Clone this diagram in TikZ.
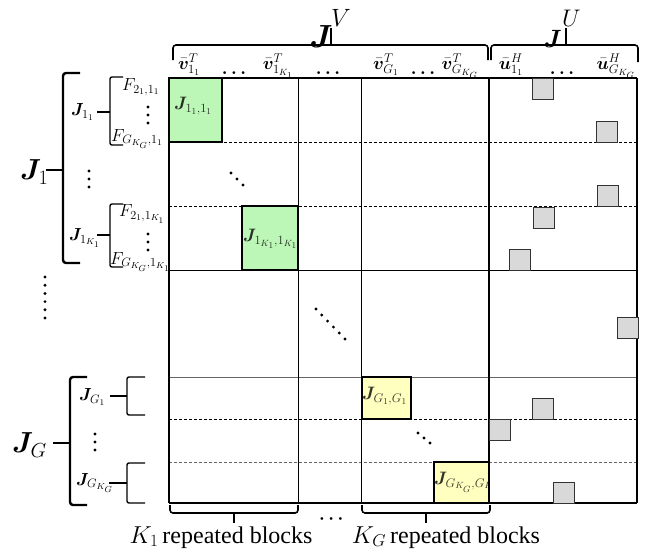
\RequirePackage{fix-cm}
\documentclass[tikz,border=0pt]{standalone}
\usepackage{amsmath}
\usepackage{bm}
\usepackage{fontspec}
\newfontfamily\timesfont{Liberation Serif}
\definecolor{blkgreen}{RGB}{189,247,183}
\definecolor{blkyellow}{RGB}{255,255,191}
\definecolor{sqgray}{RGB}{217,217,217}
\newcommand{\fs}[1]{\fontsize{#1}{#1}\selectfont}
\begin{document}
\begin{tikzpicture}[x=1pt,y=-1pt,
  thickln/.style={line width=1.8pt},
  thinln/.style={line width=0.9pt},
  dashln/.style={line width=0.8pt, dash pattern=on 3pt off 2pt},
  greydash/.style={line width=0.8pt, dash pattern=on 3pt off 2pt, draw=black!60},
  greyln/.style={line width=0.9pt, draw=black!60},
  greenblock/.style={fill=blkgreen},
  yellowblock/.style={fill=blkyellow},
  blockedge/.style={draw=black, line width=1.8pt},
  graysq/.style={fill=sqgray, draw=black!80, line width=0.9pt},
  bracket/.style={line width=1.4pt, rounded corners=2pt},
  bigbracket/.style={line width=2.4pt, rounded corners=3pt},
  topbrace/.style={line width=1.6pt, rounded corners=3pt},
  dot/.style={circle, fill=black, inner sep=0pt, minimum size=3.2pt},
  lbl/.style={inner sep=0pt},
  blklbl/.style={inner sep=0pt, anchor=west, text opacity=0.8}
]
\useasboundingbox (0,0) rectangle (654,552);

% ---------- blocks (fills) ----------
\fill[greenblock] (169,78) rectangle (222,142);
\fill[greenblock] (242,206) rectangle (298,270);
\fill[yellowblock] (362,377) rectangle (411,419);
\fill[yellowblock] (434,462) rectangle (489,503);

% ---------- grid ----------
\draw[dashln] (169,142) -- (637,142);
\draw[dashln] (169,206) -- (637,206);
\draw[thinln] (169,270) -- (637,270);
\draw[greyln] (169,377) -- (637,377);
\draw[dashln] (169,419) -- (637,419);
\draw[greydash] (169,462) -- (637,462);
\draw[thinln] (298,78) -- (298,503);
\draw[thinln] (361,78) -- (361,503);
\draw[thickln] (169,78) -- (637,78);
\draw[thickln] (169,78) -- (169,503);
\draw[thickln] (489,78) -- (489,503);
\draw[thickln] (637,78) -- (637,503);
\draw[line width=1.4pt] (169,503) -- (637,503);

% ---------- block labels (clipped) ----------
\begin{scope}
\clip (169,78) rectangle (222,142);
\node[blklbl] (b1) at (174,106) {\fs{18}$\bm J_{1_1,1_1}$};
\end{scope}
\begin{scope}
\clip (242,206) rectangle (298,270);
\node[blklbl] (b2) at (243,239) {\fs{18}$\bm J_{1_{K_1},1_{K_1}}$};
\end{scope}
\begin{scope}
\clip (362,377) rectangle (411,419);
\node[blklbl] (b3) at (362,396) {\fs{18}$\bm J_{G_1,G_1}$};
\end{scope}
\begin{scope}
\clip (434,462) rectangle (489,503);
\node[blklbl] (b4) at (434,482) {\fs{18}$\bm J_{G_{K_G},G_{K_G}}$};
\end{scope}
\draw[blockedge] (169,78) rectangle (222,142);
\draw[blockedge] (242,206) rectangle (298,270);
\draw[blockedge] (362,377) rectangle (411,419);
\draw[blockedge] (434,462) rectangle (489,503);

% ---------- gray squares in J^U ----------
\foreach \x/\y in {532/78, 596/121, 597/185, 533/207, 509/249, 617/317, 532/398, 489/419, 553/482}
  \draw[graysq] (\x,\y) rectangle ++(21,21);

% ---------- diagonal dots ----------
\foreach \x/\y [count=\i] in {231/173, 237/179, 243/185}
  \node[dot] (dd\i) at (\x,\y) {};
\foreach \i in {0,...,5}
  \node[dot] (dm\i) at ({316+\i*5.8},{309+\i*6}) {};
\foreach \x/\y [count=\i] in {418/433, 424/438, 430/443}
  \node[dot] (dy\i) at (\x,\y) {};

% ---------- vertical dots ----------
\foreach \y [count=\i] in {171,179,187}
  \node[dot] (va\i) at (89,\y) {};
\foreach \y [count=\i] in {107,115,123}
  \node[dot] (vb\i) at (148,\y) {};
\foreach \y [count=\i] in {234,242,250}
  \node[dot] (vc\i) at (148,\y) {};
\foreach \y [count=\i] in {277,285.2,293.4,301.6,309.8,318}
  \node[dot] (vd\i) at (45,\y) {};
\foreach \y [count=\i] in {434,442,450}
  \node[dot] (ve\i) at (95,\y) {};

% ---------- header ----------
\draw[topbrace] (173,60) -- (173,45) -- (488,45) -- (488,60);
\draw[topbrace] (331,45) -- (331,28);
\draw[topbrace] (491,60) -- (491,45) -- (638,45) -- (638,62);
\draw[topbrace] (566,45) -- (566,28);
\node[lbl, anchor=base east] (JV) at (333,47) {\fs{32}$\bm J$};
\node[lbl, anchor=base west] (JVs) at (331,26) {\fs{25}$V$};
\node[lbl, anchor=base east] (JU) at (562,47) {\fs{25}$\bm J$};
\node[lbl, anchor=base west] (JUs) at (562,26) {\fs{24}$U$};

\node[lbl, anchor=base] (hv1) at (189,69) {\fs{18}$\bar{\bm v}^T_{1_1}$};
\node[lbl, anchor=base] (hd1) at (234,74) {\fs{18}$\bm\ldots$};
\node[lbl, anchor=base] (hv2) at (278,69) {\fs{18}$\bar{\bm v}^T_{1_{K_1}}$};
\node[lbl, anchor=base] (hd2) at (328,74) {\fs{18}$\bm\ldots$};
\node[lbl, anchor=base] (hv3) at (386,69) {\fs{18}$\bar{\bm v}^T_{G_1}$};
\node[lbl, anchor=base] (hd3) at (423,74) {\fs{18}$\bm\ldots$};
\node[lbl, anchor=base] (hv4) at (460,69) {\fs{18}$\bar{\bm v}^T_{G_{K_G}}$};
\node[lbl, anchor=base] (hu1) at (511,69) {\fs{18}$\bar{\bm u}^H_{1_1}$};
\node[lbl, anchor=base] (hd4) at (562,74) {\fs{18}$\bm\ldots$};
\node[lbl, anchor=base] (hu2) at (616,69) {\fs{18}$\bar{\bm u}^H_{G_{K_G}}$};

% ---------- left side ----------
\draw[bigbracket] (80,73) -- (63,73) -- (63,263) -- (80,263);
\draw[bigbracket] (63,170) -- (46,170);
\node[lbl, anchor=west] (J1) at (20,172) {\fs{29}$\bm J_1$};

\draw[bracket] (123,77) -- (110,77) -- (110,145) -- (123,145);
\draw[bracket] (110,112) -- (97,112);
\node[lbl, anchor=west] (J11) at (71,112) {\fs{17.5}$\bm J_{1_1}$};
\node[lbl, anchor=west] (F1) at (122,87) {\fs{17.5}$F_{2_1,1_1}$};
\node[lbl, anchor=west] (F2) at (111,139) {\fs{17.5}$F_{G_{K_G},1_1}$};

\draw[bracket] (123,204) -- (110,204) -- (110,267) -- (123,267);
\draw[bracket] (110,235) -- (97,235);
\node[lbl, anchor=west] (J1K) at (69,238) {\fs{17.5}$\bm J_{1_{K_1}}$};
\node[lbl, anchor=west] (F3) at (119,214) {\fs{17.5}$F_{2_1,1_{K_1}}$};
\node[lbl, anchor=west] (F4) at (110,262) {\fs{17.5}$F_{G_{K_G},1_{K_1}}$};

\draw[bigbracket] (87,377) -- (70,377) -- (70,505) -- (87,505);
\draw[bigbracket] (70,443) -- (53,443);
\node[lbl, anchor=west] (JG) at (12,445) {\fs{29}$\bm J_G$};

\draw[bracket] (145,377) -- (127,377) -- (127,415) -- (145,415);
\draw[bracket] (127,396) -- (110,396);
\node[lbl, anchor=west] (JG1) at (79,397) {\fs{17.5}$\bm J_{G_1}$};

\draw[bracket] (145,463) -- (127,463) -- (127,503) -- (145,503);
\draw[bracket] (127,483) -- (109,483);
\node[lbl, anchor=west] (JGK) at (76,483) {\fs{17.5}$\bm J_{G_{K_G}}$};

% ---------- bottom ----------
\draw[topbrace] (170,505) -- (170,513) -- (298,513) -- (298,505);
\draw[topbrace] (234,513) -- (234,523);
\draw[topbrace] (362,505) -- (362,513) -- (490,513) -- (490,505);
\draw[topbrace] (426,513) -- (426,523);
\node[lbl, anchor=base] (K1) at (221,543) {\fs{24.5}$K_1$\,\timesfont\fs{24}repeated blocks};
\node[lbl, anchor=base] (KG) at (446,543) {\fs{24.5}$K_G$\,\timesfont\fs{24}repeated blocks};
\node[lbl] (bd) at (333,519) {\fs{18}$\bm\cdots$};
\end{tikzpicture}
\end{document}
